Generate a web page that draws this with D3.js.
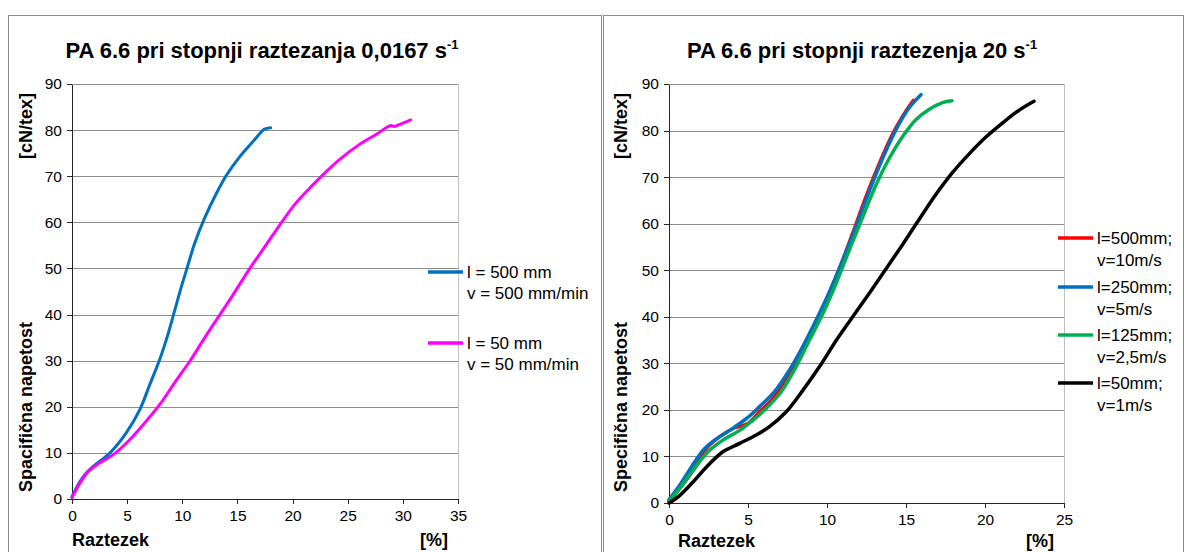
<!DOCTYPE html>
<html lang="sl">
<head>
  <meta charset="UTF-8">
  <title>PA 6.6 - raztezanje</title>
  <style>
    body { margin: 0; background: #fff; }
    svg { display: block; font-family: "Liberation Sans", Arial, sans-serif; }
    .axis path, .axis line { stroke: #262626; shape-rendering: crispEdges; }
    .axis text { font-size: 15.5px; fill: #000; }
    .grid line { stroke: #8c8c8c; shape-rendering: crispEdges; }
    .frame { fill: none; stroke: #8c8c8c; shape-rendering: crispEdges; }
    .plotBorder { fill: none; stroke: #bfbfbf; shape-rendering: crispEdges; }
    .title { font-size: 22px; font-weight: bold; }
    .axTitle { font-size: 18px; font-weight: bold; }
    .legend text { font-size: 17px; }
  </style>
</head>
<body>
<div id="chart"></div>
<script src="https://d3js.org/d3.v7.min.js"></script>
<script>
  // levi graf: 0,0167 s-1
  var strainL500 = [0, 0.72, 1.48, 2.2, 3.4, 4.9, 6.15, 7.05, 7.96, 8.7, 9.3, 9.9, 10.5, 11.1, 12.0, 13.1, 14.0, 15.2, 16.4, 17.2, 17.45, 18.0]
  var stressL500 = [0.5, 3.8, 6.1, 7.6, 9.9, 14.3, 19.4, 24.8, 30.3, 35.7, 40.8, 45.9, 50.6, 55.3, 60.8, 66.3, 70.2, 74.2, 77.5, 79.7, 80.2, 80.5]
  var strainL50 = [0, 0.72, 1.48, 2.5, 3.9, 5.25, 6.45, 7.96, 9.3, 10.8, 12.2, 13.7, 14.9, 16.1, 17.6, 18.8, 20.2, 21.5, 22.7, 24.2, 26.0, 27.6, 28.9, 29.2, 29.8, 30.7]
  var stressL50 = [0.3, 3.4, 6.0, 7.8, 9.9, 12.9, 16.1, 20.5, 25.2, 30.3, 35.6, 41.0, 45.4, 49.9, 55.1, 59.3, 63.9, 67.3, 70.2, 73.5, 76.8, 79.1, 81.0, 80.8, 81.3, 82.2]

  // desni graf: 20 s-1
  var strainR500 = [0, 0.67, 1.52, 2.36, 3.2, 4.05, 5.0, 5.73, 6.58, 7.42, 8.26, 9.1, 9.95, 10.79, 11.63, 12.48, 13.32, 14.16, 15.0, 15.47]
  var stressR500 = [0.4, 3.1, 7.0, 11.7, 14.2, 16.0, 17.1, 19.6, 22.5, 26.8, 32.1, 37.5, 43.6, 50.4, 58.0, 65.9, 73.0, 79.3, 84.2, 86.5]
  var strainR250 = [0, 0.67, 1.41, 2.15, 2.88, 3.84, 4.89, 5.73, 6.68, 7.63, 8.47, 9.31, 10.16, 11.0, 11.84, 12.69, 13.53, 14.37, 15.2, 15.95]
  var stressR250 = [0.7, 3.8, 7.7, 11.3, 13.5, 15.6, 18.1, 20.7, 23.9, 28.6, 33.6, 39.3, 45.4, 52.2, 59.4, 67.1, 74.1, 80.2, 84.9, 87.7]
  var strainR125 = [0, 0.67, 1.52, 2.47, 3.41, 4.47, 5.31, 6.15, 7.1, 8.05, 8.89, 9.74, 10.58, 11.42, 12.27, 13.11, 13.95, 14.8, 15.64, 16.48, 17.32, 17.91]
  var stressR125 = [0.4, 3.1, 7.0, 11.0, 13.5, 15.6, 17.8, 20.3, 23.9, 29.3, 35.0, 40.7, 47.2, 54.4, 61.5, 68.4, 74.1, 78.8, 82.4, 84.6, 86.0, 86.4]
  var strainR50 = [0, 0.67, 1.52, 2.36, 3.41, 4.47, 5.52, 6.36, 7.42, 8.47, 9.53, 10.58, 11.63, 12.69, 13.74, 14.8, 15.85, 16.9, 17.95, 19.0, 20.06, 21.1, 22.17, 23.1]
  var stressR50 = [0, 1.6, 4.5, 7.7, 11.0, 12.8, 14.6, 16.4, 19.6, 24.2, 29.3, 34.9, 40.0, 45.1, 50.3, 55.6, 61.0, 66.3, 71.0, 75.0, 78.6, 81.6, 84.4, 86.3]

  var yTicks = [0, 10, 20, 30, 40, 50, 60, 70, 80, 90]
  var xTicksL = [0, 5, 10, 15, 20, 25, 30, 35]
  var xTicksR = [0, 5, 10, 15, 20, 25]

  var svg = d3.select('#chart').append('svg')
    .attr('width', 1184)
    .attr('height', 552)

  function pts(xs, ys) {
    return xs.map(function (x, i) { return [x, ys[i]] })
  }

  function drawChart(c) {
    svg.append('rect').attr('class', 'frame')
      .attr('x', c.frame[0] + 0.5).attr('y', 15.5)
      .attr('width', c.frame[1] - c.frame[0]).attr('height', 560)

    var x = d3.scaleLinear().domain([0, c.xMax]).range([c.left, c.right])
    var y = d3.scaleLinear().domain([0, 90]).range([c.bottom, 84])

    // mreza
    svg.append('g').attr('class', 'grid')
      .selectAll('line').data(yTicks.slice(1)).enter().append('line')
      .attr('x1', c.left).attr('x2', c.right)
      .attr('y1', function (d) { return Math.round(y(d)) + 0.5 })
      .attr('y2', function (d) { return Math.round(y(d)) + 0.5 })
    svg.append('line').attr('class', 'plotBorder')
      .attr('x1', Math.round(c.right) + 0.5).attr('x2', Math.round(c.right) + 0.5)
      .attr('y1', 84).attr('y2', c.bottom)
      .style('stroke', '#bfbfbf')

    svg.append('g').attr('class', 'axis')
      .attr('transform', 'translate(0,' + c.bottom + ')')
      .call(d3.axisBottom(x).tickValues(c.xTicks).tickSize(5).tickPadding(6).tickSizeOuter(0))
    svg.append('g').attr('class', 'axis')
      .attr('transform', 'translate(' + c.left + ',0)')
      .call(d3.axisLeft(y).tickValues(yTicks).tickSize(5).tickPadding(5).tickSizeOuter(0))

    var line = d3.line()
      .x(function (d) { return x(d[0]) })
      .y(function (d) { return y(d[1]) })
      .curve(d3.curveCatmullRom.alpha(0.5))

    c.series.forEach(function (s) {
      svg.append('path')
        .attr('d', line(pts(s.xs, s.ys)))
        .attr('fill', 'none')
        .attr('stroke', s.color)
        .attr('stroke-width', c.lw)
        .attr('stroke-linecap', 'round')
        .attr('stroke-linejoin', 'round')
    })

    // naslov
    var t = svg.append('text').attr('class', 'title')
      .attr('x', c.titleX).attr('y', 58).attr('text-anchor', 'middle')
    t.append('tspan').text(c.title)
    t.append('tspan').text('-1').attr('dy', -9).style('font-size', '13px')

    // osi
    svg.append('text').attr('class', 'axTitle')
      .attr('transform', 'translate(' + c.yTitleX + ',' + 492 + ') rotate(-90)')
      .text(c.yTitle)
    svg.append('text').attr('class', 'axTitle')
      .attr('transform', 'translate(' + c.yTitleX + ',' + 93 + ') rotate(-90)')
      .attr('text-anchor', 'end')
      .text('[cN/tex]')
    svg.append('text').attr('class', 'axTitle')
      .attr('x', c.left + c.xTitleOff).attr('y', c.xTitleY)
      .text('Raztezek')
    svg.append('text').attr('class', 'axTitle')
      .attr('x', c.pctX).attr('y', c.xTitleY).attr('text-anchor', 'end')
      .text('[%]')

    // legenda
    var lg = svg.append('g').attr('class', 'legend')
    c.series.forEach(function (s, i) {
      var ly = c.legY[i]
      lg.append('line')
        .attr('x1', c.legX).attr('x2', c.legX + 35)
        .attr('y1', ly).attr('y2', ly)
        .attr('stroke', s.color).attr('stroke-width', 3.5)
      s.label.forEach(function (txt, j) {
        lg.append('text')
          .attr('x', c.legX + 39).attr('y', ly + 6 + j * c.legLine)
          .text(txt)
      })
    })
  }

  drawChart({
    frame: [8, 601], left: 72, right: 458, bottom: 499, xMax: 35, xTicks: xTicksL,
    lw: 3, title: 'PA 6.6 pri stopnji raztezanja 0,0167 s', titleX: 262,
    yTitle: 'Spacifična napetost', yTitleX: 32, xTitleOff: 0, pctX: 448, xTitleY: 546,
    legX: 428, legY: [272, 343], legLine: 21,
    series: [
      { xs: strainL500, ys: stressL500, color: '#0070C0', label: ['l = 500 mm', 'v = 500 mm/min'] },
      { xs: strainL50, ys: stressL50, color: '#FF00FF', label: ['l = 50 mm', 'v = 50 mm/min'] }
    ]
  })

  drawChart({
    frame: [603, 1183], left: 669, right: 1064, bottom: 503, xMax: 25, xTicks: xTicksR,
    lw: 3.5, title: 'PA 6.6 pri stopnji raztezenja 20 s', titleX: 862,
    yTitle: 'Specifična napetost', yTitleX: 627, xTitleOff: 9, pctX: 1054, xTitleY: 547,
    legX: 1058, legY: [238, 287, 335, 383], legLine: 22,
    series: [
      { xs: strainR500, ys: stressR500, color: '#FF0000', label: ['l=500mm;', 'v=10m/s'] },
      { xs: strainR250, ys: stressR250, color: '#0070C0', label: ['l=250mm;', 'v=5m/s'] },
      { xs: strainR125, ys: stressR125, color: '#00B050', label: ['l=125mm;', 'v=2,5m/s'] },
      { xs: strainR50, ys: stressR50, color: '#000000', label: ['l=50mm;', 'v=1m/s'] }
    ]
  })
</script>
</body>
</html>
